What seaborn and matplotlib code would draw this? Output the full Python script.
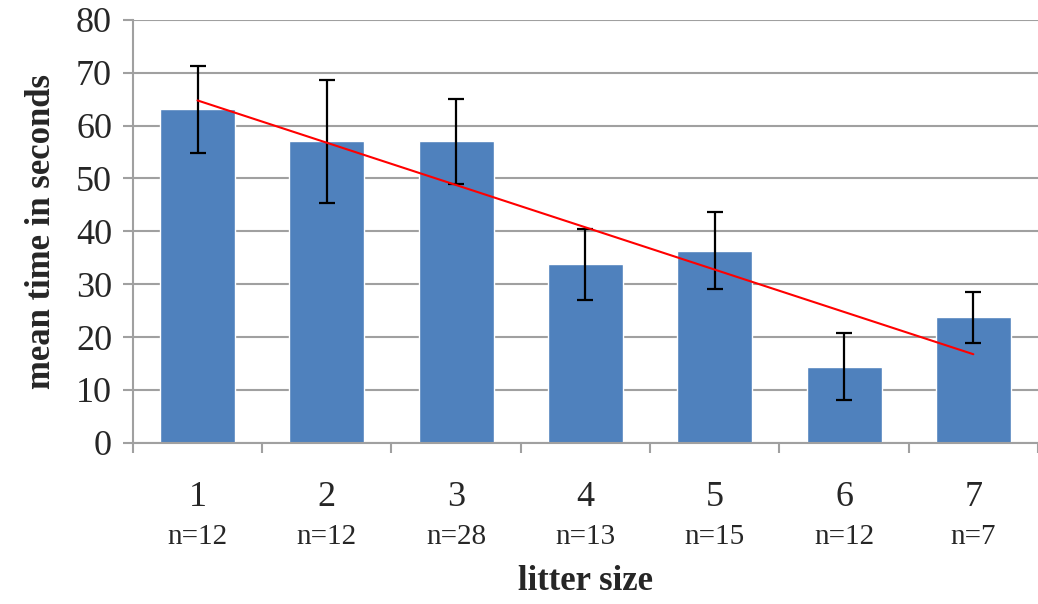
import numpy as np
import pandas as pd
import seaborn as sns
import matplotlib.pyplot as plt

# values
litter_size = ["1", "2", "3", "4", "5", "6", "7"]
n_labels = ["n=12", "n=12", "n=28", "n=13", "n=15", "n=12", "n=7"]
mean_time = [63.1, 57.0, 57.0, 33.8, 36.3, 14.4, 23.7]
err = [8.2, 11.7, 8.0, 6.7, 7.3, 6.4, 4.8]

sns.set_style("white")
plt.rcParams["font.family"] = ["Liberation Serif", "DejaVu Serif"]

df = pd.DataFrame({"litter": litter_size, "mean": mean_time})

fig = plt.figure(figsize=(10.38, 6.04), dpi=100)
ax = fig.add_axes([0.128, 0.267, 0.872, 0.70])

sns.barplot(data=df, x="litter", y="mean", color="#4F81BD", saturation=1,
            width=0.58, errorbar=None, ax=ax, zorder=2)

pos = np.arange(len(litter_size))
ax.errorbar(pos, mean_time, yerr=err, fmt="none", ecolor="black",
            elinewidth=1.6, capsize=6, capthick=1.6, zorder=3)

# linear trend line over the means
slope, icpt = np.polyfit(pos, mean_time, 1)
ax.plot(pos[[0, -1]], icpt + slope * pos[[0, -1]], color="red", lw=1.5, zorder=4)

ax.set_ylim(0, 80)
ax.set_yticks(range(0, 81, 10))
ax.set_xlim(-0.5, len(litter_size) - 0.5)
ax.yaxis.grid(True, color="#a0a0a0", lw=1.5, zorder=0)
ax.set_axisbelow(True)

for s in ["top", "right"]:
    ax.spines[s].set_visible(False)
for s in ["left", "bottom"]:
    ax.spines[s].set_color("#a0a0a0")
    ax.spines[s].set_linewidth(1.5)

ax.tick_params(axis="y", which="major", left=True, length=7, width=1.5,
               color="#a0a0a0", labelsize=26, pad=8)
ax.tick_params(axis="x", which="major", bottom=False, labelsize=26, pad=24)
ax.set_xticks(np.arange(-0.5, len(litter_size)), minor=True)
ax.tick_params(axis="x", which="minor", bottom=True, length=7, width=1.5,
               color="#a0a0a0")

for i, lab in enumerate(n_labels):
    ax.text(i, -0.222, lab, transform=ax.get_xaxis_transform(),
            ha="center", va="center", fontsize=21)

ax.set_xlabel("litter size", fontsize=25, fontweight="bold")
ax.xaxis.set_label_coords(0.5, -0.29)
ax.set_ylabel("mean time in seconds", fontsize=25, fontweight="bold")
ax.yaxis.set_label_coords(-0.083, 0.5)

fig.savefig("out.png", dpi=100)
